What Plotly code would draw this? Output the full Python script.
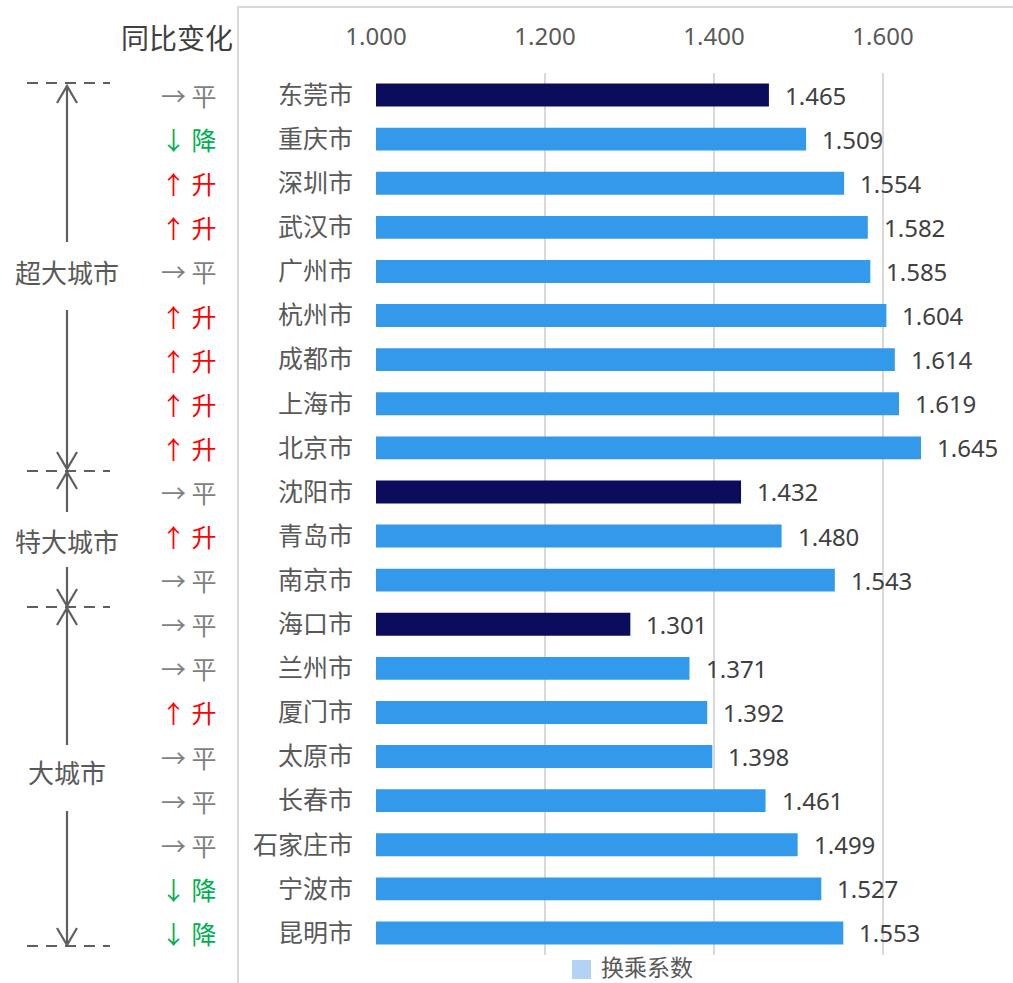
import plotly.graph_objects as go

cities = ["东莞市", "重庆市", "深圳市", "武汉市", "广州市", "杭州市", "成都市", "上海市", "北京市",
          "沈阳市", "青岛市", "南京市",
          "海口市", "兰州市", "厦门市", "太原市", "长春市", "石家庄市", "宁波市", "昆明市"]
values = [1.465, 1.509, 1.554, 1.582, 1.585, 1.604, 1.614, 1.619, 1.645,
          1.432, 1.480, 1.543,
          1.301, 1.371, 1.392, 1.398, 1.461, 1.499, 1.527, 1.553]
changes = ["平", "降", "升", "升", "平", "升", "升", "升", "升",
           "平", "升", "平",
           "平", "平", "升", "平", "平", "平", "降", "降"]
group_names = ["超大城市", "特大城市", "大城市"]
group_sizes = [9, 3, 8]
x_ticks = [1.0, 1.2, 1.4, 1.6]
legend_name = "换乘系数"

DARK = "#0B0C5C"
BLUE = "#3399EA"
GREY_TXT = "#595959"
VAL_TXT = "#404040"
LINE = "#5F5F5F"
CJK = "Noto Sans CJK SC"
NUM = "Noto Sans, Noto Sans CJK SC"

W, H = 1013, 983
ML, MR, MT, MB = 376, 3, 73, 28
PW, PH = W - ML - MR, H - MT - MB


def px(xp):
    return (xp - ML) / PW


def py(yp):
    return (H - MB - yp) / PH


change_style = {"平": ("→ 平", "#7F7F7F"), "降": ("↓ 降", "#00B050"), "升": ("↑ 升", "#FF0000")}

colors = []
for n in group_sizes:
    colors += [DARK] + [BLUE] * (n - 1)

fig = go.Figure()
fig.add_trace(go.Bar(
    x=values, y=cities, orientation="h", name=legend_name,
    marker=dict(color=colors, line=dict(width=0)),
    showlegend=False, hoverinfo="x+y"))

annotations = []
shapes = []
# value labels
for c, v in zip(cities, values):
    annotations.append(dict(x=v, y=c, xref="x", yref="y", text=f"{v:.3f}", showarrow=False,
                            xanchor="left", xshift=14, font=dict(family=NUM, size=24, color=VAL_TXT)))
# change column
for c, ch in zip(cities, changes):
    t, col = change_style[ch]
    annotations.append(dict(x=px(219), y=c, xref="paper", yref="y", text=t, showarrow=False,
                            xanchor="right", font=dict(family=CJK, size=25, color=col)))
# column title
annotations.append(dict(x=px(235), y=py(37), xref="paper", yref="paper", text="同比变化", showarrow=False,
                        xanchor="right", yanchor="middle", font=dict(family=CJK, size=28, color=VAL_TXT)))

# group labels, arrows and dashed separators
GXp = 67
label_y = [271, 540, 771]
dash_y = [83, 471, 607, 946]
arrows = [  # (tail, tip)
    (242, 86), (310, 469),
    (512, 472), (567, 606),
    (745, 608), (811, 945),
]
for g, ly in zip(group_names, label_y):
    annotations.append(dict(x=px(GXp), y=py(ly), xref="paper", yref="paper", text=g, showarrow=False,
                            xanchor="center", yanchor="middle", font=dict(family=CJK, size=26, color=GREY_TXT)))
for tail, tip in arrows:
    shapes.append(dict(type="line", xref="paper", yref="paper", x0=px(GXp), x1=px(GXp),
                       y0=py(tail), y1=py(tip), line=dict(color=LINE, width=2.2)))
    d = 17 if tail > tip else -17
    path = (f"M {px(GXp - 10)},{py(tip + d)} L {px(GXp)},{py(tip)} L {px(GXp + 10)},{py(tip + d)}")
    shapes.append(dict(type="path", xref="paper", yref="paper", path=path,
                       line=dict(color=LINE, width=2.2)))
for b in dash_y:
    shapes.append(dict(type="line", xref="paper", yref="paper", x0=px(27), x1=px(110), y0=py(b), y1=py(b),
                       line=dict(color=LINE, width=2.2, dash="11px,8px")))
# frame
shapes.append(dict(type="rect", xref="paper", yref="paper", x0=px(238), x1=px(W + 20), y0=py(H + 20), y1=py(7),
                   line=dict(color="#D9D9D9", width=2), layer="below"))
# legend (swatch + text)
shapes.append(dict(type="rect", xref="paper", yref="paper", x0=px(572), x1=px(591), y0=py(979), y1=py(960),
                   fillcolor="#B4D2F4", line=dict(width=0)))
annotations.append(dict(x=px(600), y=py(966), xref="paper", yref="paper", text=legend_name, showarrow=False,
                        xanchor="left", yanchor="middle", borderpad=0,
                        font=dict(family=CJK, size=23, color=GREY_TXT)))

fig.update_layout(
    width=W, height=H,
    margin=dict(l=ML, r=MR, t=MT, b=MB),
    paper_bgcolor="white", plot_bgcolor="white",
    bargap=0.48,
    showlegend=False,
    font=dict(family=NUM, color=GREY_TXT),
    xaxis=dict(side="top", range=[1.0, 1.0 + PW / 845], tickvals=x_ticks, tickformat=".3f",
               showgrid=True, gridcolor="#D9D9D9", gridwidth=2, zeroline=False,
               showline=False, ticks="", ticklabelstandoff=22,
               tickfont=dict(family=NUM, size=24, color=GREY_TXT), fixedrange=True),
    yaxis=dict(autorange="reversed", categoryorder="array", categoryarray=cities,
               showgrid=False, zeroline=False, showline=False, ticks="",
               ticklabelstandoff=22, tickfont=dict(family=CJK, size=25, color=GREY_TXT)),
    annotations=annotations,
    shapes=shapes,
)

fig.write_html("out.html", config={"displayModeBar": False},
               post_script="document.body.style.margin='0';document.body.style.overflow='hidden';")
